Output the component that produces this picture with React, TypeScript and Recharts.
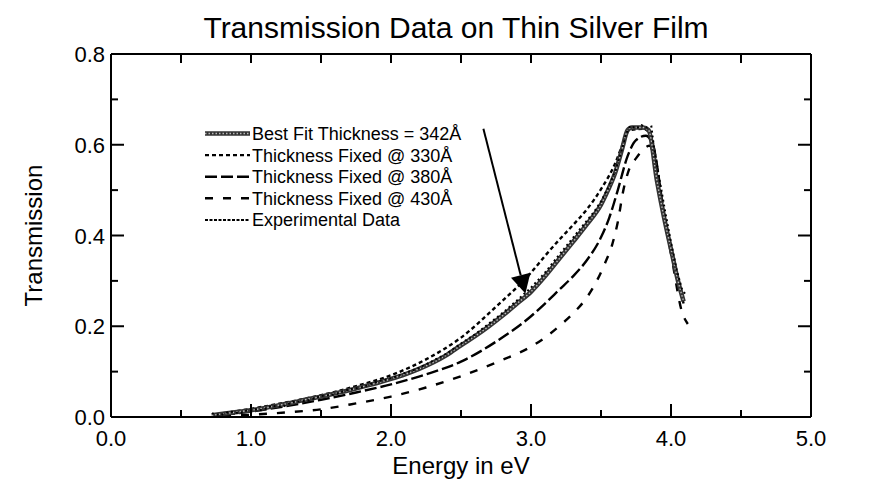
import React from 'react';
import { LineChart, Line, XAxis, YAxis, Legend, ReferenceLine } from 'recharts';

const FONT = '"Liberation Sans", Arial, Helvetica, sans-serif';

// plot frame edges (page pixels)
const PLOT_TOP = 54;
const PLOT_RIGHT = 811;

// axis ticks
const xTicks = [0, 0.5, 1, 1.5, 2, 2.5, 3, 3.5, 4, 4.5, 5];
const yTicks = [0, 0.1, 0.2, 0.3, 0.4, 0.5, 0.6, 0.7, 0.8];

// Best fit thickness = 342 A
const fitEnergy = [0.72, 0.8, 0.9, 1.0, 1.1, 1.2, 1.3, 1.4, 1.5, 1.6, 1.7, 1.8, 1.9, 2.0, 2.1, 2.2, 2.3, 2.4, 2.5, 2.6, 2.7, 2.8, 2.9, 3.0, 3.1, 3.2, 3.3, 3.4, 3.5, 3.55, 3.6, 3.65, 3.69, 3.72, 3.8, 3.84, 3.9, 3.95, 4.0, 4.05, 4.09];
const fitT = [0.004, 0.007, 0.011, 0.015, 0.02, 0.026, 0.032, 0.039, 0.045, 0.052, 0.059, 0.067, 0.075, 0.084, 0.094, 0.106, 0.12, 0.137, 0.158, 0.178, 0.2, 0.224, 0.25, 0.276, 0.31, 0.348, 0.386, 0.425, 0.468, 0.5, 0.537, 0.59, 0.632, 0.638, 0.638, 0.632, 0.52, 0.44, 0.37, 0.3, 0.255];

// Thickness fixed @ 330 A
const t330Energy = [0.75, 1.0, 1.25, 1.5, 1.75, 2.0, 2.25, 2.5, 2.75, 3.0, 3.1, 3.2, 3.3, 3.4, 3.5, 3.6, 3.66, 3.7, 3.8, 3.85, 3.95, 4.05, 4.09];
const t330T = [0.006, 0.018, 0.032, 0.048, 0.068, 0.092, 0.127, 0.175, 0.243, 0.318, 0.355, 0.39, 0.423, 0.458, 0.502, 0.558, 0.605, 0.632, 0.635, 0.625, 0.44, 0.3, 0.26];

// Thickness fixed @ 380 A
const t380Energy = [0.8, 1.0, 1.25, 1.5, 1.75, 2.0, 2.25, 2.5, 2.75, 3.0, 3.1, 3.2, 3.3, 3.4, 3.5, 3.56, 3.62, 3.69, 3.75, 3.82, 3.87, 3.95, 4.05, 4.09];
const t380T = [0.005, 0.012, 0.024, 0.038, 0.054, 0.072, 0.094, 0.122, 0.166, 0.222, 0.25, 0.28, 0.31, 0.346, 0.396, 0.44, 0.5, 0.575, 0.61, 0.62, 0.6, 0.45, 0.3, 0.25];

// Thickness fixed @ 430 A
const t430Energy = [0.8, 1.0, 1.25, 1.5, 1.75, 2.0, 2.25, 2.5, 2.75, 3.0, 3.1, 3.2, 3.3, 3.4, 3.47, 3.53, 3.58, 3.62, 3.66, 3.7, 3.75, 3.85, 3.9, 4.0, 4.08, 4.12];
const t430T = [0.002, 0.005, 0.01, 0.017, 0.03, 0.045, 0.065, 0.09, 0.12, 0.155, 0.175, 0.2, 0.228, 0.264, 0.3, 0.34, 0.38, 0.43, 0.5, 0.545, 0.57, 0.598, 0.52, 0.36, 0.23, 0.205];

// Experimental data
const expEnergy = [0.72, 0.78, 0.85, 0.92, 1.0, 1.08, 1.15, 1.22, 1.3, 1.4, 1.5, 1.6, 1.7, 1.8, 1.9, 2.0, 2.1, 2.2, 2.3, 2.4, 2.5, 2.6, 2.7, 2.8, 2.9, 3.0, 3.1, 3.2, 3.3, 3.4, 3.45, 3.5, 3.55, 3.6, 3.65, 3.68, 3.71, 3.75, 3.79, 3.83, 3.86, 3.88, 3.92, 3.96, 4.0, 4.04, 4.08, 4.11];
const expT = [0.008, 0.004, 0.012, 0.008, 0.018, 0.015, 0.025, 0.022, 0.033, 0.036, 0.046, 0.05, 0.061, 0.066, 0.078, 0.085, 0.097, 0.108, 0.124, 0.14, 0.162, 0.182, 0.206, 0.23, 0.257, 0.285, 0.318, 0.357, 0.395, 0.433, 0.452, 0.475, 0.505, 0.54, 0.59, 0.625, 0.642, 0.636, 0.643, 0.637, 0.64, 0.59, 0.52, 0.45, 0.385, 0.325, 0.28, 0.268];

const toPoints = (e: number[], t: number[]) => e.map((v, i) => ({ e: v, t: t[i] }));

const fitPts = toPoints(fitEnergy, fitT);
const t330Pts = toPoints(t330Energy, t330T);
const t380Pts = toPoints(t380Energy, t380T);
const t430Pts = toPoints(t430Energy, t430T);
const expPts = toPoints(expEnergy, expT);

const legendRows = [
  { name: 'Best Fit Thickness = 342Å', dash: undefined, width: 4.5, fit: true },
  { name: 'Thickness Fixed @ 330Å', dash: '4 3', width: 2.4, fit: false },
  { name: 'Thickness Fixed @ 380Å', dash: '12 4', width: 2.4, fit: false },
  { name: 'Thickness Fixed @ 430Å', dash: '8 10', width: 2.4, fit: false },
  { name: 'Experimental Data', dash: '3 1.5', width: 2, fit: false },
];

// bottom tick + matching inward tick on the top frame
const BottomTick = (props: any) => {
  const { x, y, payload } = props;
  const v = payload.value;
  const major = Number.isInteger(v);
  return (
    <g>
      <line x1={x} y1={y} x2={x} y2={y - (major ? 13 : 7)} stroke="#000" strokeWidth={2} />
      <line x1={x} y1={PLOT_TOP} x2={x} y2={PLOT_TOP + 9} stroke="#000" strokeWidth={2} />
      {major && (
        <text x={x} y={y + 29} textAnchor="middle" fontSize={22} fontFamily={FONT} fill="#000">
          {v.toFixed(1)}
        </text>
      )}
    </g>
  );
};

// left tick + matching inward tick on the right frame
const LeftTick = (props: any) => {
  const { x, y, payload } = props;
  const v = payload.value;
  const major = Math.round(v * 10) % 2 === 0;
  const len = major ? 13 : 7;
  return (
    <g>
      <line x1={x} y1={y} x2={x + len} y2={y} stroke="#000" strokeWidth={2} />
      <line x1={PLOT_RIGHT} y1={y} x2={PLOT_RIGHT - len} y2={y} stroke="#000" strokeWidth={2} />
      {major && (
        <text x={x - 6} y={y + 8} textAnchor="end" fontSize={22} fontFamily={FONT} fill="#000">
          {v.toFixed(1)}
        </text>
      )}
    </g>
  );
};

const Arrow = (props: any) => {
  const { x1, y1, x2, y2 } = props;
  const dx = x2 - x1;
  const dy = y2 - y1;
  const len = Math.hypot(dx, dy) || 1;
  const ux = dx / len;
  const uy = dy / len;
  const hl = 19;
  const hw = 10;
  const bx = x2 - ux * hl;
  const by = y2 - uy * hl;
  return (
    <g>
      <line x1={x1} y1={y1} x2={bx} y2={by} stroke="#000" strokeWidth={2} />
      <polygon
        points={`${x2},${y2} ${bx - uy * hw},${by + ux * hw} ${bx + uy * hw},${by - ux * hw}`}
        fill="#000"
      />
    </g>
  );
};

const renderLegend = () => (
  <svg width={300} height={112} style={{ display: 'block' }}>
    {legendRows.map((r, i) => {
      const cy = 13.5 + i * 21.6;
      return (
        <g key={r.name}>
          {r.fit ? (
            <g>
              <line x1={5} x2={50} y1={cy} y2={cy} stroke="#333" strokeWidth={4.5} />
              <line x1={5} x2={50} y1={cy} y2={cy} stroke="#bbb" strokeWidth={1.4} strokeDasharray="1.5 2" />
            </g>
          ) : (
            <line x1={5} x2={50} y1={cy} y2={cy} stroke="#000" strokeWidth={r.width} strokeDasharray={r.dash} />
          )}
          <text x={52} y={cy + 6.5} fontSize={18} fontFamily={FONT} fill="#000">
            {r.name}
          </text>
        </g>
      );
    })}
  </svg>
);

// x-axis title and the chart title
const XTitle = (props: any) => {
  const vb = props.viewBox;
  const cx = vb.x + vb.width / 2;
  return (
    <g>
      <text x={cx - 5} y={38} textAnchor="middle" fontSize={30} fontFamily={FONT} fill="#000">
        Transmission Data on Thin Silver Film
      </text>
      <text x={cx} y={474} textAnchor="middle" fontSize={24} fontFamily={FONT} fill="#000">
        Energy in eV
      </text>
    </g>
  );
};

const YTitle = (props: any) => {
  const vb = props.viewBox;
  const cy = vb.y + vb.height / 2;
  return (
    <text
      x={42}
      y={cy}
      transform={`rotate(-90, 42, ${cy})`}
      textAnchor="middle"
      fontSize={24}
      fontFamily={FONT}
      fill="#000"
    >
      Transmission
    </text>
  );
};

export default function App() {
  return (
    <div style={{ position: 'absolute', left: 0, top: 0, width: 881, height: 488, background: '#fff' }}>
      <LineChart width={881} height={488} margin={{ top: PLOT_TOP, right: 881 - PLOT_RIGHT, bottom: 0, left: 0 }}>
        <XAxis
          type="number"
          dataKey="e"
          domain={[0, 5]}
          ticks={xTicks}
          allowDataOverflow
          height={71}
          tickSize={0}
          tickMargin={0}
          tickLine={false}
          axisLine={{ stroke: '#000', strokeWidth: 2 }}
          tick={<BottomTick />}
          interval={0}
          label={{ content: <XTitle /> }}
        />
        <YAxis
          type="number"
          domain={[0, 0.8]}
          ticks={yTicks}
          allowDataOverflow
          width={111}
          tickSize={0}
          tickMargin={0}
          tickLine={false}
          axisLine={{ stroke: '#000', strokeWidth: 2 }}
          tick={<LeftTick />}
          interval={0}
          label={{ content: <YTitle /> }}
        />
        <ReferenceLine y={0.8} stroke="#000" strokeWidth={2} ifOverflow="visible" />
        <ReferenceLine x={5} stroke="#000" strokeWidth={2} ifOverflow="visible" />
        <Legend
          layout="vertical"
          align="center"
          verticalAlign="middle"
          content={renderLegend}
          wrapperStyle={{ left: 200, top: 120, width: 300, height: 112 }}
        />
        <Line data={t430Pts} dataKey="t" name="Thickness Fixed @ 430Å" type="monotone" stroke="#000" strokeWidth={2.4} strokeDasharray="8 10" dot={false} isAnimationActive={false} />
        <Line data={t380Pts} dataKey="t" name="Thickness Fixed @ 380Å" type="monotone" stroke="#000" strokeWidth={2.4} strokeDasharray="12 4" dot={false} isAnimationActive={false} />
        <Line data={t330Pts} dataKey="t" name="Thickness Fixed @ 330Å" type="monotone" stroke="#000" strokeWidth={2.4} strokeDasharray="4 3" dot={false} isAnimationActive={false} />
        <Line data={fitPts} dataKey="t" name="Best Fit Thickness = 342Å" type="monotone" stroke="#333" strokeWidth={4.5} dot={false} isAnimationActive={false} />
        <Line data={fitPts} dataKey="t" type="monotone" stroke="#bbb" strokeWidth={1.4} strokeDasharray="1.5 2" dot={false} legendType="none" isAnimationActive={false} />
        <Line data={expPts} dataKey="t" name="Experimental Data" type="linear" stroke="#000" strokeWidth={2} strokeDasharray="2 3" dot={false} isAnimationActive={false} />
        <ReferenceLine
          segment={[{ x: 2.66, y: 0.635 }, { x: 2.96, y: 0.272 }]}
          shape={<Arrow />}
          ifOverflow="visible"
        />
      </LineChart>
    </div>
  );
}
